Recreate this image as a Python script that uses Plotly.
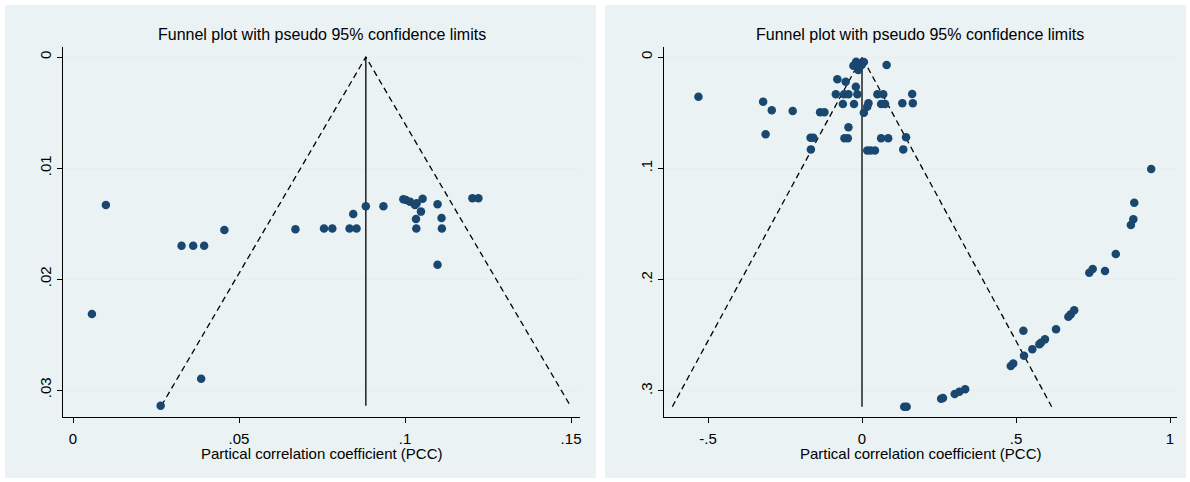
import plotly.graph_objects as go

# ---------------- data ----------------
left_pcc = [0.0057, 0.0099, 0.0327, 0.0362, 0.0395, 0.0456, 0.0670, 0.0756, 0.0781,
            0.0833, 0.0854, 0.0844, 0.0882, 0.0935, 0.0995, 0.1003, 0.1015, 0.1030,
            0.1035, 0.1053, 0.1048, 0.1033, 0.1034, 0.1098, 0.1110, 0.1111, 0.1098,
            0.1203, 0.1221, 0.0386, 0.0264]
left_se = [0.02315, 0.01333, 0.0170, 0.0170, 0.0170, 0.01559, 0.01552, 0.01546, 0.01546,
           0.01546, 0.01546, 0.01414, 0.01345, 0.01345, 0.01282, 0.01288, 0.01303, 0.01333,
           0.01318, 0.01276, 0.01393, 0.01459, 0.01546, 0.01327, 0.01450, 0.01546, 0.01871,
           0.01273, 0.01273, 0.02898, 0.03141]
left_estimate = 0.0882

right_pcc = [-0.531, -0.321, -0.293, -0.313, -0.225, -0.136, -0.122, -0.167, -0.158, -0.166,
             -0.080, -0.053, -0.020, -0.085, -0.058, -0.044, -0.015, 0.050, 0.069, 0.163,
             -0.062, -0.026, 0.021, 0.017, 0.062, 0.075, 0.131, 0.165, 0.006, -0.044,
             -0.057, -0.046, 0.062, 0.085, 0.143, 0.017, 0.028, 0.042, 0.134, 0.080,
             -0.028, -0.015, -0.001, -0.012, -0.019, 0.006,
             0.939, 0.884, 0.881, 0.873, 0.824, 0.789, 0.749, 0.738, 0.689, 0.678,
             0.670, 0.630, 0.594, 0.581, 0.576, 0.524, 0.553, 0.526, 0.491, 0.483,
             0.335, 0.316, 0.301, 0.263, 0.257, 0.145, 0.137]
right_se = [0.0357, 0.0401, 0.0479, 0.0695, 0.0485, 0.0497, 0.0497, 0.0725, 0.0725, 0.0830,
            0.0200, 0.0222, 0.0267, 0.0335, 0.0335, 0.0335, 0.0335, 0.0335, 0.0335, 0.0332,
            0.0422, 0.0422, 0.0416, 0.0446, 0.0422, 0.0422, 0.0416, 0.0416, 0.0500, 0.0632,
            0.0731, 0.0731, 0.0731, 0.0731, 0.0722, 0.0840, 0.0840, 0.0840, 0.0830, 0.0072,
            0.0078, 0.0057, 0.0072, 0.0117, 0.0042, 0.0045,
            0.1006, 0.1309, 0.1458, 0.1510, 0.1770, 0.1923, 0.1905, 0.1938, 0.2276, 0.2312,
            0.2334, 0.2447, 0.2537, 0.2567, 0.2580, 0.2459, 0.2626, 0.2684, 0.2753, 0.2776,
            0.2986, 0.3007, 0.3028, 0.3064, 0.3070, 0.3142, 0.3142]
right_estimate = 0.0

left_xticks = [0, 0.05, 0.1, 0.15]
left_xtext = ["0", ".05", ".1", ".15"]
left_yticks = [0, 0.01, 0.02, 0.03]
left_ytext = ["0", ".01", ".02", ".03"]
right_xticks = [-0.5, 0, 0.5, 1]
right_xtext = ["-.5", "0", ".5", "1"]
right_yticks = [0, 0.1, 0.2, 0.3]
right_ytext = ["0", ".1", ".2", ".3"]

title_text = "Funnel plot with pseudo 95% confidence limits"
xtitle_text = "Partical correlation coefficient (PCC)"

# ---------------- styling ----------------
W, H = 1190, 482
BG = "#EAF2F3"
GRID = "#E6EEF0"
NAVY = "#1A476F"
FONT = "Liberation Sans, Arial, sans-serif"

def px(x):
    return x / W

def py(y):
    return 1 - y / H

fig = go.Figure()

def add_funnel(pcc, se, est, xa, ya):
    semax = max(se)
    fig.add_trace(go.Scatter(x=[est - 1.96 * semax, est, est + 1.96 * semax],
                             y=[semax, 0, semax], mode="lines",
                             line=dict(color="black", width=1.3, dash="6px,4px"),
                             xaxis=xa, yaxis=ya, showlegend=False, hoverinfo="skip"))
    fig.add_trace(go.Scatter(x=[est, est], y=[0, semax], mode="lines",
                             line=dict(color="black", width=1.3),
                             xaxis=xa, yaxis=ya, showlegend=False, hoverinfo="skip"))
    fig.add_trace(go.Scatter(x=pcc, y=se, mode="markers",
                             marker=dict(color=NAVY, size=8.5, line=dict(width=0)),
                             xaxis=xa, yaxis=ya, showlegend=False))

add_funnel(left_pcc, left_se, left_estimate, "x", "y")
add_funnel(right_pcc, right_se, right_estimate, "x2", "y2")

ydom = [py(417), py(47)]
axis_common = dict(showline=True, linecolor="black", linewidth=1, ticks="outside",
                   ticklen=5, tickcolor="black", tickwidth=1, zeroline=False,
                   tickfont=dict(family=FONT, size=15, color="black"))

fig.update_layout(
    width=W, height=H, margin=dict(l=0, r=0, t=0, b=0),
    paper_bgcolor="white", plot_bgcolor="white",
    xaxis=dict(domain=[px(63.3), px(580)], range=[-0.00292, 0.1527],
               tickvals=left_xticks, ticktext=left_xtext, showgrid=False,
               anchor="y", ticklabelstandoff=3, **axis_common),
    yaxis=dict(domain=ydom, range=[(417 - 57) / 11100, (47 - 57) / 11100],
               tickvals=left_yticks, ticktext=left_ytext, showgrid=True,
               gridcolor=GRID, gridwidth=1.2, tickangle=-90, anchor="x", **axis_common),
    xaxis2=dict(domain=[px(663.5), px(1177)], range=[(663.5 - 862) / 308, (1177 - 862) / 308],
                tickvals=right_xticks, ticktext=right_xtext, showgrid=False,
                anchor="y2", ticklabelstandoff=3, **axis_common),
    yaxis2=dict(domain=ydom, range=[(417 - 57) / 1113, (47 - 57) / 1113],
                tickvals=right_yticks, ticktext=right_ytext, showgrid=True,
                gridcolor=GRID, gridwidth=1.2, tickangle=-90, anchor="x2", **axis_common),
    shapes=[
        dict(type="rect", xref="paper", yref="paper", x0=px(5), x1=px(596),
             y0=py(478), y1=py(5), fillcolor=BG, line=dict(width=0), layer="below"),
        dict(type="rect", xref="paper", yref="paper", x0=px(605), x1=px(1186),
             y0=py(478), y1=py(5), fillcolor=BG, line=dict(width=0), layer="below"),
    ],
)

for cx in [(63.3 + 580) / 2, (663.5 + 1177) / 2]:
    fig.add_annotation(x=px(cx), y=py(35), xref="paper", yref="paper",
                       text=title_text, showarrow=False, xanchor="center", yanchor="middle",
                       font=dict(family=FONT, size=16, color="black"))
    fig.add_annotation(x=px(cx), y=py(453), xref="paper", yref="paper",
                       text=xtitle_text, showarrow=False, xanchor="center", yanchor="middle",
                       font=dict(family=FONT, size=15, color="black"))

fig.write_html("out.html", config={"displayModeBar": False},
               post_script="document.body.style.margin='0';document.body.style.overflow='hidden';")
